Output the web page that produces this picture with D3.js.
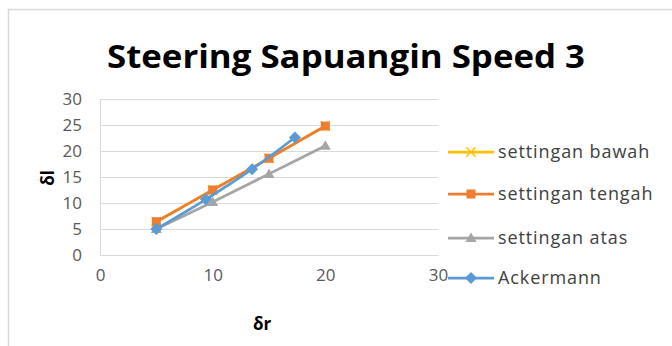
<!DOCTYPE html>
<html><head><meta charset="utf-8">
<script src="https://cdn.jsdelivr.net/npm/d3@7"></script>
<style>body{margin:0;background:#fff}svg{display:block}</style>
</head><body>
<svg id="c" width="672" height="346"></svg>
<script>
const title = "Steering Sapuangin Speed 3";
const xTicks = [0, 10, 20, 30];
const yTicks = [0, 5, 10, 15, 20, 25, 30];
const seriesNames = ["settingan bawah", "settingan tengah", "settingan atas", "Ackermann"];
const seriesColors = ["#FFC000", "#ED7D31", "#A5A5A5", "#5B9BD5"];
const seriesMarkers = ["cross", "square", "triangle", "diamond"];
const bawahX = [5, 10, 15, 20];
const bawahY = [6.4, 12.5, 18.6, 24.8];
const tengahX = [5, 10, 15, 20];
const tengahY = [6.4, 12.5, 18.6, 24.8];
const atasX = [5, 10, 15, 20];
const atasY = [5, 10.2, 15.6, 21];
const ackX = [5, 9.4, 13.5, 17.3];
const ackY = [5, 10.7, 16.5, 22.6];

const svg = d3.select("#c");
const font = "'Open Sans', 'Liberation Sans', sans-serif";
svg.append("rect").attr("x", 8.5).attr("y", 9.5).attr("width", 680).attr("height", 350)
  .attr("fill", "#fff").attr("stroke", "#d9d9d9").attr("stroke-width", 1.5);

const x = d3.scaleLinear().domain([0, 30]).range([100, 438]);
const y = d3.scaleLinear().domain([0, 30]).range([255, 99]);

svg.append("text").attr("x", 346).attr("y", 68).attr("text-anchor", "middle")
  .attr("font-family", font).attr("font-weight", "bold").attr("font-size", 33)
  .attr("textLength", 478).attr("lengthAdjust", "spacingAndGlyphs")
  .attr("fill", "#000").text(title);

svg.append("g").selectAll("line").data(yTicks).join("line")
  .attr("x1", x(0)).attr("x2", x(30)).attr("y1", d => Math.round(y(d)) + 0.5).attr("y2", d => Math.round(y(d)) + 0.5)
  .attr("stroke", "#d9d9d9").attr("stroke-width", 1);
svg.append("line").attr("x1", x(0) + 0.5).attr("x2", x(0) + 0.5).attr("y1", y(0)).attr("y2", y(30))
  .attr("stroke", "#d9d9d9");

const yAxis = d3.axisLeft(y).tickValues(yTicks).tickSize(0).tickPadding(18);
const gy = svg.append("g").attr("transform", `translate(${x(0)},0)`).call(yAxis);
gy.select(".domain").remove();
gy.selectAll("text").attr("font-family", font).attr("font-size", 17).attr("fill", "#595959");

const xAxis = d3.axisBottom(x).tickValues(xTicks).tickSize(0).tickPadding(14);
const gx = svg.append("g").attr("transform", `translate(0,${y(0)})`).call(xAxis);
gx.select(".domain").remove();
gx.selectAll("text").attr("font-family", font).attr("font-size", 17).attr("fill", "#595959");

svg.append("text").attr("x", 262).attr("y", 330).attr("text-anchor", "middle")
  .attr("font-family", font).attr("font-weight", "bold").attr("font-size", 17).text("δr");
svg.append("text").attr("transform", "translate(54,178) rotate(-90)").attr("text-anchor", "middle")
  .attr("font-family", font).attr("font-weight", "bold").attr("font-size", 17).text("δl");

const data = [
  bawahX.map((v, i) => [v, bawahY[i]]),
  tengahX.map((v, i) => [v, tengahY[i]]),
  atasX.map((v, i) => [v, atasY[i]]),
  ackX.map((v, i) => [v, ackY[i]])
];
const line = d3.line().x(d => x(d[0])).y(d => y(d[1])).curve(d3.curveCatmullRom);

function marker(g, type, color, cx, cy) {
  let p;
  if (type === "cross") {
    p = g.append("path").attr("d", d3.symbol(d3.symbolX, 60)()).attr("fill", "none").attr("stroke", color).attr("stroke-width", 1.5);
  } else if (type === "square") {
    p = g.append("rect").attr("x", -4.5).attr("y", -4.5).attr("width", 9).attr("height", 9).attr("fill", color);
  } else if (type === "triangle") {
    p = g.append("path").attr("d", "M0,-5.5L5.5,4L-5.5,4Z").attr("fill", color);
  } else {
    p = g.append("path").attr("d", "M0,-6L6,0L0,6L-6,0Z").attr("fill", color);
  }
  p.attr("transform", `translate(${cx},${cy})`);
}

data.forEach((pts, i) => {
  const g = svg.append("g");
  g.append("path").attr("d", line(pts)).attr("fill", "none").attr("stroke", seriesColors[i]).attr("stroke-width", 2.75)
    .attr("stroke-linejoin", "round");
  pts.forEach(p => marker(g, seriesMarkers[i], seriesColors[i], x(p[0]), y(p[1])));
});

const legY = [152, 194, 238, 278];
seriesNames.forEach((n, i) => {
  const g = svg.append("g");
  g.append("line").attr("x1", 448).attr("x2", 494).attr("y1", legY[i]).attr("y2", legY[i])
    .attr("stroke", seriesColors[i]).attr("stroke-width", 2.75);
  marker(g, seriesMarkers[i], seriesColors[i], 471, legY[i]);
  g.append("text").attr("x", 498).attr("y", legY[i] + 6).attr("font-family", font).attr("font-size", 18)
    .attr("letter-spacing", 0.9).attr("fill", "#404040").text(n);
});
</script>
</body></html>
